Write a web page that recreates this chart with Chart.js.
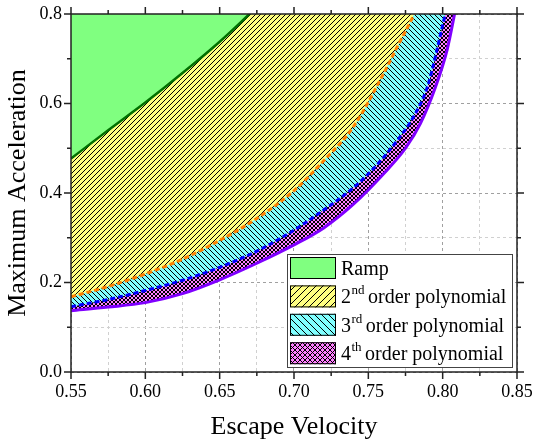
<!DOCTYPE html>
<html>
<head>
<meta charset="utf-8">
<script src="https://cdn.jsdelivr.net/npm/chart.js@4"></script>
<style>
  html, body { margin: 0; padding: 0; background: #fff; }
</style>
</head>
<body>
<canvas id="canvas" width="533" height="446"></canvas>
<script>
// boundary curves (escape velocity -> max acceleration)
const rampX = [0.55, 0.575, 0.60, 0.625, 0.65, 0.67, 0.685];
const rampY = [0.477, 0.540, 0.602, 0.668, 0.738, 0.800, 0.850];

const poly2X = [0.55, 0.575, 0.60, 0.625, 0.65, 0.675, 0.70, 0.72, 0.74, 0.76, 0.77, 0.78, 0.79];
const poly2Y = [0.168, 0.191, 0.219, 0.252, 0.294, 0.343, 0.405, 0.472, 0.548, 0.665, 0.730, 0.794, 0.870];

const poly3X = [0.55, 0.575, 0.60, 0.625, 0.65, 0.675, 0.70, 0.72, 0.74, 0.755, 0.77, 0.78, 0.79, 0.80, 0.806];
const poly3Y = [0.146, 0.162, 0.182, 0.205, 0.234, 0.270, 0.317, 0.362, 0.412, 0.460, 0.520, 0.568, 0.640, 0.775, 0.860];

const poly4X = [0.55, 0.575, 0.60, 0.625, 0.65, 0.675, 0.70, 0.72, 0.74, 0.76, 0.775, 0.785, 0.795, 0.803, 0.808, 0.812];
const poly4Y = [0.137, 0.145, 0.155, 0.175, 0.206, 0.243, 0.284, 0.322, 0.375, 0.442, 0.500, 0.555, 0.635, 0.720, 0.800, 0.870];

const xTickLabels = ['0.55', '0.60', '0.65', '0.70', '0.75', '0.80', '0.85'];
const yTickLabels = ['0.0', '0.2', '0.4', '0.6', '0.8'];

// legend text, split into [main, superscript, rest]
const legendLabels = [
  ['Ramp', '', ''],
  ['2', 'nd', 'order polynomial'],
  ['3', 'rd', 'order polynomial'],
  ['4', 'th', 'order polynomial']
];

const serif = '"Liberation Serif", "Times New Roman", serif';

function pts(xs, ys) {
  return xs.map((x, i) => ({x: x, y: ys[i]}));
}

function hatch(bg, kind, s) {
  const c = document.createElement('canvas');
  c.width = s; c.height = s;
  const g = c.getContext('2d');
  g.fillStyle = bg;
  g.fillRect(0, 0, s, s);
  g.strokeStyle = '#000';
  g.lineWidth = 1;
  g.beginPath();
  if (kind == 'fwd' || kind == 'cross') {
    g.moveTo(0, s); g.lineTo(s, 0);
    g.moveTo(-1, 1); g.lineTo(1, -1);
    g.moveTo(s - 1, s + 1); g.lineTo(s + 1, s - 1);
  }
  if (kind == 'back' || kind == 'cross') {
    g.moveTo(0, 0); g.lineTo(s, s);
    g.moveTo(-1, s - 1); g.lineTo(1, s + 1);
    g.moveTo(s - 1, -1); g.lineTo(s + 1, 1);
  }
  g.stroke();
  return g.createPattern(c, 'repeat');
}

const fills = [
  '#80ff80',
  hatch('#ffff80', 'fwd', 5),
  hatch('#80ffff', 'back', 5),
  hatch('#ff80ff', 'cross', 4)
];
const swatches = [
  '#80ff80',
  hatch('#ffff80', 'fwd', 7),
  hatch('#80ffff', 'back', 7),
  hatch('#ff80ff', 'cross', 5)
];

const isMajorX = v => xTickLabels.includes(v.toFixed(2));
const isMajorY = v => yTickLabels.includes(v.toFixed(1)) && Math.abs(v * 10 - Math.round(v * 10)) < 1e-6;

const frame = {
  id: 'frame',
  afterDraw(chart) {
    const {ctx, chartArea: a, scales} = chart;
    ctx.save();
    ctx.strokeStyle = '#222';
    ctx.lineWidth = 1.5;
    ctx.strokeRect(a.left, a.top, a.right - a.left, a.bottom - a.top);
    ctx.beginPath();
    scales.x.ticks.forEach(t => {
      const p = scales.x.getPixelForValue(t.value);
      const len = t.label ? 7 : 4;
      ctx.moveTo(p, a.bottom); ctx.lineTo(p, a.bottom + len);
      ctx.moveTo(p, a.top); ctx.lineTo(p, a.top - len);
    });
    scales.y.ticks.forEach(t => {
      const p = scales.y.getPixelForValue(t.value);
      const len = t.label ? 7 : 4;
      ctx.moveTo(a.left, p); ctx.lineTo(a.left - len, p);
      ctx.moveTo(a.right, p); ctx.lineTo(a.right + len, p);
    });
    ctx.stroke();

    // legend
    const bx = 287, by = 254, bw = 225, bh = 113;
    ctx.fillStyle = '#fff';
    ctx.fillRect(bx, by, bw, bh);
    ctx.strokeStyle = '#444';
    ctx.lineWidth = 1;
    ctx.strokeRect(bx + 0.5, by + 0.5, bw, bh);
    legendLabels.forEach((lab, i) => {
      const top = 257 + i * 28.4;
      ctx.fillStyle = swatches[i];
      ctx.fillRect(290, top, 46, 22);
      ctx.strokeStyle = '#000';
      ctx.strokeRect(290.5, top + 0.5, 45, 21);
      const base = top + 11 + 7;
      ctx.fillStyle = '#000';
      ctx.textBaseline = 'alphabetic';
      ctx.textAlign = 'left';
      ctx.font = '20px ' + serif;
      let x = 341;
      ctx.fillText(lab[0], x, base);
      x += ctx.measureText(lab[0]).width;
      if (lab[1]) {
        ctx.font = '13px ' + serif;
        ctx.fillText(lab[1], x + 0.5, base - 9);
        x += ctx.measureText(lab[1]).width + 4;
        ctx.font = '20px ' + serif;
        ctx.fillText(lab[2], x, base);
      }
    });
    ctx.restore();
  }
};

const line = (data, color, width, dash, fill) => ({
  data: data,
  borderColor: color,
  borderWidth: width,
  borderDash: dash,
  backgroundColor: fill,
  fill: 'end',
  pointRadius: 0,
  cubicInterpolationMode: 'monotone',
  clip: 0
});

new Chart(document.getElementById('canvas'), {
  type: 'line',
  data: {
    datasets: [
      line(pts(rampX, rampY), '#007000', 2.5, [], fills[0]),
      line(pts(poly2X, poly2Y), '#ff8000', 3, [5, 3], fills[1]),
      line(pts(poly3X, poly3Y), '#0000ff', 3, [5, 3], fills[2]),
      line(pts(poly4X, poly4Y), '#8000ff', 3, [], fills[3])
    ]
  },
  options: {
    responsive: false,
    animation: false,
    devicePixelRatio: 1,
    layout: { padding: 0 },
    plugins: { legend: { display: false }, tooltip: { enabled: false } },
    scales: {
      x: {
        type: 'linear',
        min: 0.55, max: 0.85,
        afterFit: s => { s.height = 74; s.paddingLeft = 0; s.paddingRight = 16; },
        ticks: {
          stepSize: 0.025,
          autoSkip: false,
          maxRotation: 0,
          padding: 9,
          color: '#000',
          font: { family: serif, size: 18 },
          callback: v => isMajorX(v) ? v.toFixed(2) : ''
        },
        grid: {
          drawTicks: false,
          color: c => (c.tick && isMajorX(c.tick.value)) ? '#a0a0a0' : '#d0d0d0',
          lineWidth: 1
        },
        border: { display: false, dash: [3, 3] },
        title: {
          display: true, text: 'Escape Velocity', color: '#000',
          font: { family: serif, size: 26 },
          padding: { top: 0, bottom: 3 }
        }
      },
      y: {
        type: 'linear',
        min: 0, max: 0.8,
        afterFit: s => { s.width = 71; s.paddingTop = 14; s.paddingBottom = 0; },
        ticks: {
          stepSize: 0.1,
          autoSkip: false,
          padding: 9,
          color: '#000',
          font: { family: serif, size: 18 },
          callback: v => isMajorY(v) ? v.toFixed(1) : ''
        },
        grid: {
          drawTicks: false,
          color: c => (c.tick && isMajorY(c.tick.value)) ? '#a0a0a0' : '#d0d0d0',
          lineWidth: 1
        },
        border: { display: false, dash: [3, 3] },
        title: {
          display: true, text: 'Maximum Acceleration', color: '#000',
          font: { family: serif, size: 26 },
          padding: { top: 3, bottom: 0 }
        }
      }
    }
  },
  plugins: [frame]
});
</script>
</body>
</html>
